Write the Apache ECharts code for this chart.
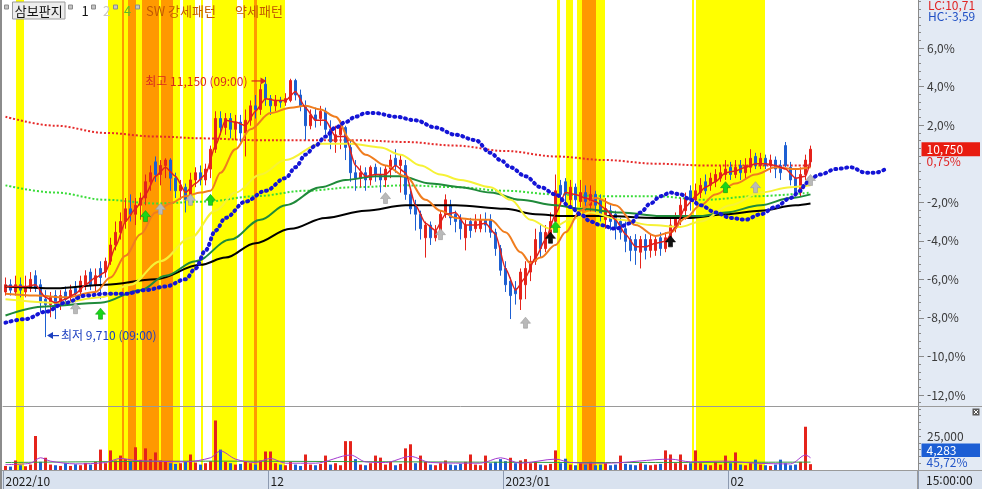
<!DOCTYPE html>
<html lang="ko">
<head>
<meta charset="utf-8">
<title>삼보판지</title>
<script src="https://cdn.jsdelivr.net/npm/echarts@6.0.0/dist/echarts.min.js"></script>
<style>
html,body{margin:0;padding:0;background:#ffffff;overflow:hidden;}
#chart{width:982px;height:489px;}
</style>
</head>
<body>
<div id="chart"></div>
<script>
// ---------------- data ----------------
const basePrice = 10670;
const slotCount = 183;
const categories = Array.from({length: slotCount}, (_, i) => String(i));
const tickIndex = [0, 53, 100, 145];
const tickText = ['2022/10', '12', '2023/01', '02'];
const pctTicks = [6, 4, 2, -2, -4, -6, -8, -10, -12];
const volTicks = [25000];

const openP = [9960,10000,9960,10000,9960,9980,10050,10000,9920,9890,
 9940,9890,9960,9930,9980,9960,10000,10070,10000,10090,
 10070,10130,10220,10290,10350,10420,10390,10440,10480,10570,
 10680,10610,10660,10690,10590,10520,10540,10470,10580,10620,
 10580,10640,10750,10920,10870,10920,10860,10900,10840,10910,
 10990,10970,11110,11030,10990,11020,11010,11020,11130,11050,
 10990,10880,10940,10920,10960,10860,10790,10830,10870,10760,
 10620,10590,10620,10580,10650,10610,10580,10640,10700,10660,
 10660,10500,10440,10390,10260,10330,10260,10290,10390,10440,
 10390,10360,10260,10350,10310,10310,10360,10360,10290,10200,
 10090,10020,9980,9920,10000,10070,10130,10290,10200,10280,
 10350,10550,10570,10470,10540,10460,10510,10440,10500,10470,
 10360,10410,10390,10350,10310,10250,10250,10180,10250,10190,
 10190,10260,10200,10250,10310,10370,10410,10520,10470,10510,
 10570,10550,10570,10590,10610,10650,10610,10660,10620,10650,
 10710,10660,10700,10660,10690,10660,10770,10650,10590,10510,
 10610,10680];
const closeP = [10000,9970,10000,9970,9990,10030,9980,9900,9890,9930,
 9890,9940,9920,9970,9950,10020,10050,10000,10050,10040,
 10130,10220,10290,10350,10420,10390,10440,10480,10570,10620,
 10610,10660,10690,10590,10520,10550,10470,10580,10620,10580,
 10640,10750,10920,10870,10920,10860,10900,10840,10910,10990,
 10970,11080,11030,10990,11020,11010,11030,11130,11050,10990,
 10880,10940,10910,10960,10860,10790,10830,10870,10760,10620,
 10590,10620,10580,10650,10610,10580,10640,10690,10660,10690,
 10500,10420,10390,10310,10330,10260,10300,10390,10470,10370,
 10350,10310,10330,10300,10350,10360,10330,10290,10200,10080,
 10000,9940,9950,10070,10090,10130,10250,10200,10290,10350,
 10520,10500,10500,10540,10470,10510,10460,10500,10440,10390,
 10420,10350,10310,10290,10240,10190,10190,10250,10190,10250,
 10250,10200,10260,10330,10370,10440,10480,10470,10520,10550,
 10520,10590,10610,10620,10640,10610,10650,10620,10660,10700,
 10660,10700,10660,10690,10640,10620,10660,10580,10510,10610,
 10690,10750];
const lowP = [9940,9940,9940,9930,9930,9960,9960,9850,9710,9820,
 9810,9860,9890,9900,9920,9940,9970,9970,9960,9920,
 10040,10110,10190,10250,10310,10350,10330,10360,10440,10520,
 10570,10550,10590,10520,10480,10470,10400,10440,10540,10550,
 10550,10590,10730,10830,10830,10810,10800,10790,10710,10880,
 10920,10940,10990,10940,10960,10980,10990,11010,11020,10960,
 10800,10860,10870,10880,10830,10750,10730,10750,10690,10570,
 10520,10540,10520,10550,10570,10510,10540,10590,10620,10510,
 10470,10390,10300,10250,10150,10220,10240,10260,10370,10330,
 10290,10250,10190,10260,10290,10290,10290,10260,10160,10050,
 9960,9810,9890,9860,9920,10020,10110,10150,10180,10250,
 10310,10440,10440,10420,10410,10430,10410,10400,10400,10350,
 10310,10300,10250,10250,10180,10130,10110,10090,10140,10150,
 10160,10160,10180,10220,10290,10330,10360,10410,10440,10480,
 10500,10520,10540,10570,10580,10580,10590,10580,10590,10620,
 10640,10640,10640,10620,10590,10580,10650,10550,10490,10490,
 10580,10650];
const highP = [10040,10030,10050,10040,10050,10070,10080,10030,9970,9960,
 9970,9970,9990,10000,10020,10050,10080,10090,10090,10130,
 10150,10260,10350,10400,10480,10500,10480,10510,10610,10660,
 10710,10690,10700,10700,10620,10580,10560,10620,10650,10660,
 10670,10770,10960,10960,10950,10950,10940,10940,10970,11020,
 11050,11110,11150,11050,11050,11040,11060,11140,11140,11080,
 11020,10970,10980,10990,10980,10910,10880,10910,10880,10800,
 10690,10660,10650,10660,10670,10650,10660,10720,10750,10720,
 10690,10520,10470,10410,10350,10350,10330,10410,10500,10470,
 10410,10390,10360,10370,10390,10390,10400,10390,10310,10220,
 10130,10040,10020,10090,10130,10160,10310,10330,10330,10400,
 10610,10580,10590,10580,10560,10580,10550,10550,10520,10500,
 10480,10440,10410,10370,10350,10270,10280,10270,10280,10280,
 10270,10290,10290,10370,10400,10480,10510,10550,10560,10590,
 10610,10620,10640,10660,10690,10680,10690,10690,10700,10750,
 10730,10730,10720,10720,10710,10690,10790,10680,10640,10650,
 10720,10770];
const volumes = [3000,2500,7000,3500,2800,4000,25000,6000,9000,4000,
 3500,3000,5000,3000,4200,3500,5200,4000,6000,15000,
 5000,14400,7000,10600,8000,6000,16700,7500,15900,8000,
 12900,7000,6000,5000,4500,5000,6000,11400,5500,4000,
 5000,6500,36400,15000,6000,5000,4000,4500,6000,5000,
 4000,7000,13600,13600,5000,4000,3500,6000,4000,3000,
 11400,4000,3500,4500,10600,4000,5000,3500,21200,21200,
 8000,4000,3500,5000,10600,9100,4000,6000,3500,4500,
 15900,18900,5000,10600,6000,4000,3500,5000,7000,4000,
 3500,4500,6000,11400,4000,3500,10600,5000,6000,8000,
 6500,9000,5000,7000,8000,5000,6000,4000,3500,4500,
 14400,5000,8300,4000,3500,5000,4000,6000,3500,4000,
 5000,3500,4000,10600,4500,4000,3500,5000,4000,3500,
 4000,4500,14400,11400,5000,11400,4000,5000,14400,5000,
 4000,3500,6000,4000,10600,5000,12900,4000,3500,5000,
 7600,4000,3500,3000,4000,7600,5000,3500,4000,6000,
 31800,4283];
// volume bars that the reference paints blue although large
const volBlueSpikes = [43];

// moving-average style lines (bar index, price)
const redMaIdx = [0,2,4,6,8,10,12,14,16,18,20,22,24,26,28,30,32,34,36,38,40,42,44,46,48,50,52,54,56,58,60,62,64,66,68,70,72,74,76,78,80,82,84,86,88,90,92,94,96,98,100,102,104,106,108,110,112,114,116,118,120,122,124,126,128,130,132,134,136,138,140,142,144,146,148,150,152,154,156,158,160,161];
const redMaVal = [9990,9990,9990,10000,9930,9900,9920,9950,10000,10040,
 10070,10210,10350,10420,10500,10600,10650,10600,10510,10560,
 10610,10770,10910,10900,10880,10960,11030,11020,11020,11070,
 10980,10910,10910,10820,10820,10660,10600,10610,10610,10660,
 10620,10440,10340,10300,10390,10400,10330,10330,10340,10280,
 10090,9970,10040,10150,10250,10390,10510,10500,10480,10460,
 10420,10360,10280,10210,10210,10230,10240,10320,10430,10490,
 10540,10570,10620,10630,10650,10670,10670,10660,10640,10590,
 10600,10690];
const orangeIdx = [0,6,12,18,21,24,27,30,33,36,39,41,43,46,49,53,57,60,63,66,69,72,76,80,84,87,90,94,97,100,103,105,107,110,112,115,118,122,126,130,133,136,139,142,146,150,154,158,161];
const orangeVal = [9950,9940,9930,9960,10040,10160,10280,10400,10450,10490,
 10510,10520,10620,10750,10860,10950,10980,10990,10970,10930,
 10800,10720,10660,10600,10470,10410,10370,10360,10360,10290,
 10180,10120,10150,10220,10290,10410,10480,10440,10330,10270,
 10290,10370,10440,10500,10560,10610,10650,10640,10650];
const yellowIdx = [0,11,19,25,31,37,42,46,51,56,63,69,75,79,83,87,91,97,101,105,109,113,117,123,129,135,139,145,151,157,161];
const yellowVal = [9920,9900,9930,10000,10130,10260,10410,10510,10610,10690,
 10780,10780,10760,10720,10660,10610,10580,10540,10470,10360,
 10310,10360,10400,10360,10330,10320,10350,10440,10510,10540,10550];
const greenIdx = [0,8,19,27,32,38,45,51,56,63,68,74,79,85,91,97,103,110,115,123,131,139,144,151,157,161];
const greenVal = [9830,9880,9900,9970,10050,10130,10250,10360,10440,10540,
 10580,10600,10600,10560,10540,10510,10470,10440,10420,10400,
 10380,10380,10400,10440,10480,10500];
const blackIdx = [0,10,20,30,39,44,50,57,64,72,80,90,100,106,112,120,130,137,144,151,158,161];
const blackVal = [9990,9980,10000,10030,10110,10150,10230,10310,10370,10410,
 10440,10440,10420,10390,10380,10380,10370,10370,10390,10410,10440,10450];
const redDotIdx = [0,10,20,30,40,50,60,70,80,90,100,110,120,130,140,150,161];
const redDotVal = [10930,10880,10840,10820,10810,10800,10800,10800,10790,10770,10740,10710,10690,10670,10660,10660,10660];
const greenDotIdx = [0,10,20,30,40,50,60,70,80,90,100,110,120,130,140,150,161];
const greenDotVal = [10550,10510,10470,10450,10460,10490,10520,10540,10550,10540,10520,10500,10490,10490,10470,10490,10510];
const blueLeadIdx = [0,4,8,12,16,20,24,28,32,36,38,40,42,44,48,52,56,58,60,62,64,66,68,70,72,74,78,82,86,90,94,97,99,101,104,107,110,113,115,117,119,122,125,127,129,131,133,135,137,139,142,145,148,151,154,157,159,160,161,163,166,169,172,174,176];
const blueLeadVal = [9790,9810,9850,9900,9940,9950,9950,9970,9990,10030,
 10090,10190,10300,10370,10460,10520,10590,10650,10720,10770,
 10820,10870,10900,10930,10950,10950,10930,10910,10870,10830,
 10800,10730,10690,10650,10600,10540,10500,10430,10390,10350,
 10330,10310,10340,10400,10450,10490,10510,10500,10470,10440,
 10400,10370,10360,10390,10430,10480,10520,10560,10590,10610,
 10640,10650,10620,10620,10640];

const volMaIdx = [0,5,7,9,14,20,23,26,30,36,41,43,46,50,53,56,62,69,72,76,81,85,95,99,103,110,113,120,133,137,144,150,157,160,161];
const volMaVal = [4000,5000,9000,6500,4500,5500,8500,7000,6500,6000,9000,14000,8000,5500,8500,5000,5000,11000,6000,5500,10000,5500,5000,9000,5000,8000,5500,5000,8000,6000,6500,5000,4500,11000,9000];
const volMa2Idx = [0,40,80,120,161];
const volMa2Val = [5500,6500,6000,5500,5800];

// pattern bands (bar-index units): 0 = strong, 1 = orange
const bandStart = [2.1,20.5,23.3,23.7,24.5,26.1,27.3,30.7,31.1,33.5,35.5,39.1,41.3,47.5,49.7,50.3,110.3,112.1,114.3,115.3,118.1,137.3,138.1];
const bandEnd   = [3.7,23.3,23.7,24.5,26.1,27.3,30.7,31.1,33.5,34.9,37.9,39.5,46.3,49.7,50.3,55.9,110.9,113.5,115.3,118.1,119.9,137.7,151.9];
const bandKind  = [0,0,1,0,1,0,1,0,1,0,0,0,0,0,1,0,0,0,0,1,0,0,0];

// signal arrows
const greenArrowIdx = [19, 28, 41, 110, 144];
const greenArrowVal = [9840, 10380, 10470, 10320, 10540];
const grayArrowIdx = [14, 31, 37, 76, 87, 104, 150, 161];
const grayArrowVal = [9870, 10420, 10470, 10480, 10280, 9790, 10540, 10580];
const blackArrowIdx = [109, 133];
const blackArrowVal = [10260, 10240];

// extremes
const extremeIdx = [52, 8];
const extremePrice = [11150, 9710];
const extremeText = ['최고 11,150 (09:00)', '최저 9,710 (09:00)'];

// ---------------- chart ----------------
const FONT = "'Noto Sans CJK KR', 'Noto Sans', sans-serif";
const UP = '#e5231b', DOWN = '#1d5fd2';
const pctMin = -12.57, pctMax = 8.49, volMax = 46300;

const pctOf = p => (p / basePrice - 1) * 100;
const pairs = (idx, val) => idx.map((x, k) => [x, pctOf(val[k])]);
const fmtPct = (v, d) => v.toFixed(d).replace('.', ',') + '%';
const fmtInt = v => String(Math.round(v)).replace(/\B(?=(\d{3})+(?!\d))/g, ',');

const minorPct = [];
for (let k = -31; k <= 21; k++) minorPct.push(+(k * 0.4).toFixed(1));
const minorVol = [5000,10000,15000,20000,25000,30000,35000,40000,45000];

const candleData = openP.map((o, i) => [pctOf(o), pctOf(closeP[i]), pctOf(lowP[i]), pctOf(highP[i])]);
const volData = volumes.map((v, i) => {
  const red = !volBlueSpikes.includes(i) && (closeP[i] >= openP[i] || v >= 9000);
  return {value: v, itemStyle: {color: red ? UP : DOWN}};
});
const bandColors = ['#ffff00', '#ff9900'];
const bandData = bandStart.map((s, k) => [s, bandEnd[k], bandKind[k]]);

function renderBand(params, api) {
  const cs = params.coordSys;
  const x0 = api.coord([api.value(0), 0])[0];
  const x1 = api.coord([api.value(1), 0])[0];
  return {type: 'rect', shape: {x: x0, y: cs.y, width: Math.max(x1 - x0, 0.5), height: cs.height},
          style: {fill: bandColors[api.value(2)]}};
}

const lineS = (idx, val, color, width, type, z, extra) => Object.assign({
  type: 'line', xAxisIndex: 0, yAxisIndex: 0, data: pairs(idx, val),
  showSymbol: false, symbol: 'none', smooth: 0.35, smoothMonotone: 'x',
  lineStyle: {color: color, width: width, type: type || 'solid'}, z: z || 5, silent: true
}, extra || {});

const arrowPath = 'path://M5,0L10,5.5L7,5.5L7,10L3,10L3,5.5L0,5.5Z';
const arrowS = (idx, val, color, border) => ({
  type: 'scatter', xAxisIndex: 0, yAxisIndex: 0, data: pairs(idx, val),
  symbol: arrowPath, symbolSize: [10, 11],
  itemStyle: {color: color, borderColor: border, borderWidth: 0.6, opacity: 1}, z: 9, silent: true
});

const chart = echarts.init(document.getElementById('chart'), null, {renderer: 'canvas'});

const option = {
  animation: false,
  backgroundColor: '#ffffff',
  textStyle: {fontFamily: FONT},
  grid: [
    {left: 3, right: 64, top: 0, height: 406},
    {left: 3, right: 64, top: 407, height: 63}
  ],
  xAxis: [
    {type: 'category', gridIndex: 0, data: categories, boundaryGap: true,
     axisLine: {show: true, onZero: false, lineStyle: {color: '#9a9a9a', width: 1}},
     axisTick: {show: false}, axisLabel: {show: false}, splitLine: {show: false}},
    {type: 'category', gridIndex: 1, data: categories, boundaryGap: true,
     axisLine: {show: true, onZero: false, lineStyle: {color: '#9a9a9a', width: 1}},
     axisTick: {show: true, interval: (i) => tickIndex.includes(i), length: 19,
                lineStyle: {color: '#8d9ab0', width: 1}},
     axisLabel: {show: true, interval: (i) => tickIndex.includes(i),
                 formatter: (v, i) => tickText[tickIndex.indexOf(i)] || '',
                 align: 'left', margin: 5, color: '#1a1a1a', fontSize: 12, fontFamily: FONT,
                 hideOverlap: false},
     splitLine: {show: false}},
    {type: 'value', gridIndex: 0, min: -0.5, max: slotCount - 0.5, show: false},
    {type: 'value', gridIndex: 1, min: -0.5, max: slotCount - 0.5, show: false}
  ],
  yAxis: [
    {type: 'value', gridIndex: 0, position: 'right', min: pctMin, max: pctMax,
     axisLine: {show: true, onZero: false, lineStyle: {color: '#8a8a8a'}},
     axisTick: {show: true, length: 6, customValues: pctTicks, lineStyle: {color: '#8a8a8a'}},
     axisLabel: {show: true, customValues: pctTicks, formatter: v => fmtPct(v, 1),
                 margin: 9, color: '#3a3a3a', fontSize: 12, fontFamily: FONT},
     splitLine: {show: false}},
    {type: 'value', gridIndex: 0, position: 'right', min: pctMin, max: pctMax,
     axisLine: {show: false, onZero: false},
     axisTick: {show: true, length: 3, customValues: minorPct, lineStyle: {color: '#8a8a8a'}},
     axisLabel: {show: false}, splitLine: {show: false}},
    {type: 'value', gridIndex: 1, position: 'right', min: 0, max: volMax,
     axisLine: {show: true, onZero: false, lineStyle: {color: '#8a8a8a'}},
     axisTick: {show: true, length: 3, customValues: minorVol, lineStyle: {color: '#8a8a8a'}},
     axisLabel: {show: true, customValues: volTicks, formatter: v => fmtInt(v),
                 margin: 9, color: '#3a3a3a', fontSize: 12, fontFamily: FONT},
     splitLine: {show: false}}
  ],
  series: [
    {type: 'custom', xAxisIndex: 2, yAxisIndex: 0, renderItem: renderBand, data: bandData,
     encode: {x: [0, 1], y: 2}, z: 1, silent: true},
    {type: 'custom', xAxisIndex: 3, yAxisIndex: 2, renderItem: renderBand, data: bandData,
     encode: {x: [0, 1], y: 2}, z: 1, silent: true},
    lineS(redDotIdx, redDotVal, '#e62a2a', 2, [2, 2], 3),
    lineS(greenDotIdx, greenDotVal, '#38dc38', 2, [2, 2], 3),
    {type: 'candlestick', xAxisIndex: 0, yAxisIndex: 0, data: candleData, barWidth: 3,
     itemStyle: {color: UP, color0: DOWN, borderColor: UP, borderColor0: DOWN, borderWidth: 1},
     z: 4, silent: true},
    lineS(blackIdx, blackVal, '#000000', 2, 'solid', 5),
    lineS(greenIdx, greenVal, '#1f8a3a', 2, 'solid', 5),
    lineS(yellowIdx, yellowVal, '#f6f236', 2, 'solid', 5),
    lineS(orangeIdx, orangeVal, '#f07d1e', 2, 'solid', 6),
    lineS(redMaIdx, redMaVal, '#e0201c', 1.5, 'solid', 6, {smooth: 0.2}),
    lineS(blueLeadIdx, blueLeadVal, '#1414d6', 4, [1, 4.5], 7, {lineStyle: {color: '#1414d6', width: 4, type: [1, 4.5], cap: 'round'}}),
    arrowS(greenArrowIdx, greenArrowVal, '#19d619', '#0f9a0f'),
    arrowS(grayArrowIdx, grayArrowVal, '#b9b9b9', '#9a9a9a'),
    arrowS(blackArrowIdx, blackArrowVal, '#111111', '#000000'),
    {type: 'bar', xAxisIndex: 1, yAxisIndex: 2, data: volData, barWidth: 3, z: 4, silent: true},
    {type: 'line', xAxisIndex: 1, yAxisIndex: 2, data: volMa2Idx.map((x, k) => [x, volMa2Val[k]]),
     showSymbol: false, symbol: 'none', smooth: 0.3, lineStyle: {color: '#2f9e3f', width: 1}, z: 5, silent: true},
    {type: 'line', xAxisIndex: 1, yAxisIndex: 2, data: volMaIdx.map((x, k) => [x, volMaVal[k]]),
     showSymbol: false, symbol: 'none', smooth: 0.3, lineStyle: {color: '#a43ad0', width: 1}, z: 5, silent: true}
  ]
};
chart.setOption(option);

// ---------------- overlay texts / frames ----------------
const rect = (x, y, w, h, fill, stroke, z) => ({type: 'rect', shape: {x, y, width: w, height: h},
  style: {fill: fill, stroke: stroke || null, lineWidth: stroke ? 1 : 0}, z: z == null ? 10 : z, silent: true});
const text = (x, y, t, fill, size, align, z) => ({type: 'text', x, y,
  style: {text: t, fill: fill, font: size + 'px ' + FONT, textAlign: align || 'left',
          textVerticalAlign: 'middle', verticalAlign: 'middle'}, z: z == null ? 20 : z, silent: true});
const pline = (pts, stroke, w, z) => ({type: 'polyline', shape: {points: pts},
  style: {stroke: stroke, lineWidth: w || 1, fill: null}, z: z == null ? 12 : z, silent: true});
const poly = (pts, fill, z) => ({type: 'polygon', shape: {points: pts}, style: {fill: fill}, z: z == null ? 12 : z, silent: true});

const G = [];
// panels
G.push(rect(918, 0, 64, 470, '#e3eaf4', null, -10));
G.push(rect(0, 470, 982, 19, '#d9e2ef', null, -10));
G.push(pline([[918, 406.5], [982, 406.5]], '#9a9a9a', 1, 11));
G.push(pline([[0, 470.5], [982, 470.5]], '#9a9a9a', 1, 11));
G.push(pline([[917.5, 470], [917.5, 489]], '#9a9a9a', 1, 11));
G.push(pline([[1, 0], [1, 489]], '#8c8c8c', 2, 11));

// legend
const icon = x => rect(x, 5, 4, 4, '#c4c4c4', '#8a8a8a', 15);
G.push(icon(4.5));
G.push(rect(12.5, 2, 52.5, 17, '#ececec', '#9a9a9a', 15));
G.push(text(38.75, 11, '삼보판지', '#111111', 13, 'center'));
G.push(icon(68.5));
G.push(text(81.5, 11, '1', '#111111', 13));
G.push(icon(91.5));
G.push(text(103, 11, '2', '#c6c6c6', 13));
G.push(icon(113.5));
G.push(text(124, 11, '4', '#5cb82a', 13));
G.push(icon(135.5));
G.push(text(146, 11, 'SW 강세패턴', '#c25a00', 13));
G.push(text(235, 11, '약세패턴', '#c25a00', 13));

// right side readouts
const lastClose = closeP[closeP.length - 1];
const lastY = chart.convertToPixel({yAxisIndex: 0}, pctOf(lastClose));
G.push(text(928, 5.5, 'LC:10,71', '#e02424', 12));
G.push(text(928, 16, 'HC:-3,59', '#2050c4', 12));
G.push(rect(921.5, lastY - 7, 58.5, 14, '#e81c10', null, 15));
G.push(text(926.5, lastY, fmtInt(lastClose), '#ffffff', 12));
G.push(text(926.5, lastY + 12.5, fmtPct(pctOf(lastClose), 2), '#e02424', 12));
G.push(rect(921.5, 443.5, 58.5, 13.5, '#1c5ed4', null, 15));
G.push(text(926.5, 450.5, fmtInt(volumes[volumes.length - 1]), '#ffffff', 12));
G.push(text(926.5, 462.5, '45,72%', '#2456c8', 12));
G.push(text(926, 480, '15:00:00', '#1a1a1a', 12));
G.push(rect(972.5, 408.5, 7, 7, '#5a5a5a', null, 15));
G.push(pline([[974, 410], [978, 414]], '#ffffff', 1, 16));
G.push(pline([[978, 410], [974, 414]], '#ffffff', 1, 16));

// extremes
const hp = chart.convertToPixel({xAxisIndex: 0, yAxisIndex: 0}, [extremeIdx[0], pctOf(extremePrice[0])]);
const lp = chart.convertToPixel({xAxisIndex: 0, yAxisIndex: 0}, [extremeIdx[1], pctOf(extremePrice[1])]);
{
  const tipX = hp[0] + 1, y = hp[1] + 4;
  G.push(pline([[tipX - 15, y], [tipX - 4, y]], '#d8281e', 1.2, 16));
  G.push(poly([[tipX - 6, y - 3.5], [tipX, y], [tipX - 6, y + 3.5]], '#d8281e', 16));
  G.push(text(tipX - 19, y, extremeText[0], '#d8281e', 12, 'right'));
}
{
  const tipX = lp[0] + 1.5, y = lp[1] - 1.5;
  G.push(pline([[tipX + 4, y], [tipX + 12, y]], '#1c3fc0', 1.2, 16));
  G.push(poly([[tipX + 6, y - 3.5], [tipX, y], [tipX + 6, y + 3.5]], '#1c3fc0', 16));
  G.push(text(tipX + 14, y, extremeText[1], '#1c3fc0', 12, 'left'));
}

chart.setOption({graphic: {elements: G}});
</script>
</body>
</html>
